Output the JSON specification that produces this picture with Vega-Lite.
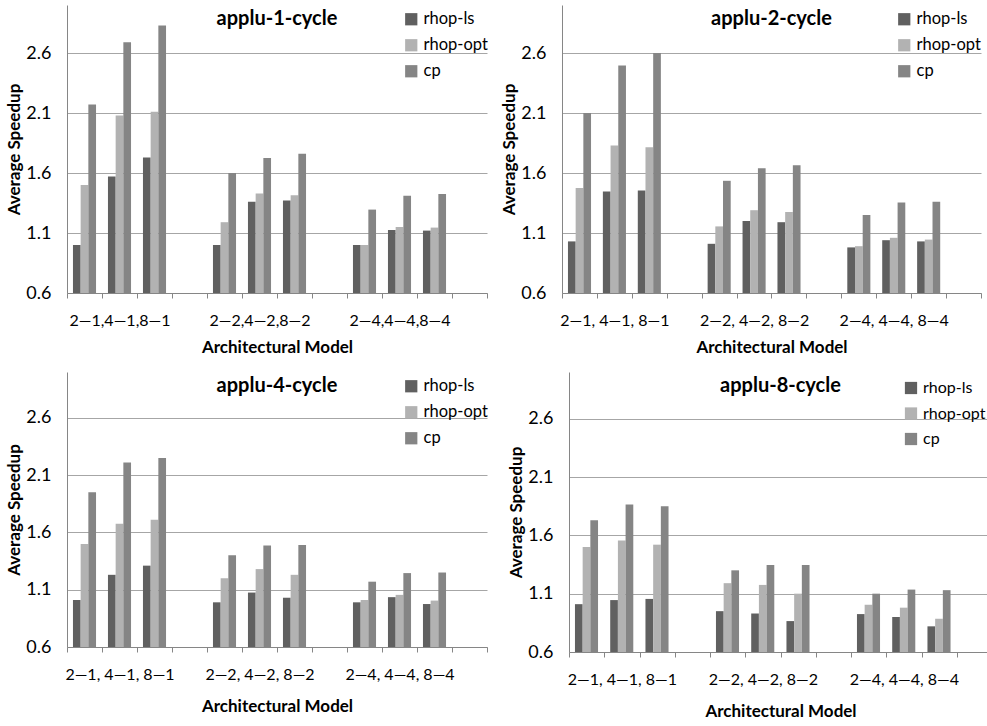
{
  "$schema": "https://vega.github.io/schema/vega-lite/v6.json",
  "background": "white",
  "padding": {"left": 5, "top": 5, "right": 5, "bottom": 5},
  "config": {
    "font": "Lato",
    "view": {"stroke": null},
    "axis": {"labelFont": "Lato", "titleFont": "Lato", "labelColor": "#000", "titleColor": "#000", "domainColor": "#868686", "tickColor": "#868686", "gridColor": "#a6a6a6"},
    "legend": {"labelFont": "Lato", "labelColor": "#000"},
    "title": {"font": "Lato", "color": "#000"}
  },
  "data": {"values": [
    {"panel": 1, "slot": "2—1", "series": "rhop-ls", "value": 1.00},
    {"panel": 1, "slot": "2—1", "series": "rhop-opt", "value": 1.50},
    {"panel": 1, "slot": "2—1", "series": "cp", "value": 2.17},
    {"panel": 1, "slot": "4—1", "series": "rhop-ls", "value": 1.57},
    {"panel": 1, "slot": "4—1", "series": "rhop-opt", "value": 2.08},
    {"panel": 1, "slot": "4—1", "series": "cp", "value": 2.69},
    {"panel": 1, "slot": "8—1", "series": "rhop-ls", "value": 1.73},
    {"panel": 1, "slot": "8—1", "series": "rhop-opt", "value": 2.11},
    {"panel": 1, "slot": "8—1", "series": "cp", "value": 2.83},
    {"panel": 1, "slot": "2—2", "series": "rhop-ls", "value": 1.00},
    {"panel": 1, "slot": "2—2", "series": "rhop-opt", "value": 1.19},
    {"panel": 1, "slot": "2—2", "series": "cp", "value": 1.60},
    {"panel": 1, "slot": "4—2", "series": "rhop-ls", "value": 1.36},
    {"panel": 1, "slot": "4—2", "series": "rhop-opt", "value": 1.43},
    {"panel": 1, "slot": "4—2", "series": "cp", "value": 1.725},
    {"panel": 1, "slot": "8—2", "series": "rhop-ls", "value": 1.37},
    {"panel": 1, "slot": "8—2", "series": "rhop-opt", "value": 1.415},
    {"panel": 1, "slot": "8—2", "series": "cp", "value": 1.76},
    {"panel": 1, "slot": "2—4", "series": "rhop-ls", "value": 1.00},
    {"panel": 1, "slot": "2—4", "series": "rhop-opt", "value": 1.00},
    {"panel": 1, "slot": "2—4", "series": "cp", "value": 1.295},
    {"panel": 1, "slot": "4—4", "series": "rhop-ls", "value": 1.125},
    {"panel": 1, "slot": "4—4", "series": "rhop-opt", "value": 1.15},
    {"panel": 1, "slot": "4—4", "series": "cp", "value": 1.41},
    {"panel": 1, "slot": "8—4", "series": "rhop-ls", "value": 1.12},
    {"panel": 1, "slot": "8—4", "series": "rhop-opt", "value": 1.145},
    {"panel": 1, "slot": "8—4", "series": "cp", "value": 1.425},

    {"panel": 2, "slot": "2—1", "series": "rhop-ls", "value": 1.03},
    {"panel": 2, "slot": "2—1", "series": "rhop-opt", "value": 1.475},
    {"panel": 2, "slot": "2—1", "series": "cp", "value": 2.10},
    {"panel": 2, "slot": "4—1", "series": "rhop-ls", "value": 1.445},
    {"panel": 2, "slot": "4—1", "series": "rhop-opt", "value": 1.83},
    {"panel": 2, "slot": "4—1", "series": "cp", "value": 2.495},
    {"panel": 2, "slot": "8—1", "series": "rhop-ls", "value": 1.455},
    {"panel": 2, "slot": "8—1", "series": "rhop-opt", "value": 1.815},
    {"panel": 2, "slot": "8—1", "series": "cp", "value": 2.60},
    {"panel": 2, "slot": "2—2", "series": "rhop-ls", "value": 1.01},
    {"panel": 2, "slot": "2—2", "series": "rhop-opt", "value": 1.155},
    {"panel": 2, "slot": "2—2", "series": "cp", "value": 1.535},
    {"panel": 2, "slot": "4—2", "series": "rhop-ls", "value": 1.20},
    {"panel": 2, "slot": "4—2", "series": "rhop-opt", "value": 1.29},
    {"panel": 2, "slot": "4—2", "series": "cp", "value": 1.64},
    {"panel": 2, "slot": "8—2", "series": "rhop-ls", "value": 1.19},
    {"panel": 2, "slot": "8—2", "series": "rhop-opt", "value": 1.275},
    {"panel": 2, "slot": "8—2", "series": "cp", "value": 1.665},
    {"panel": 2, "slot": "2—4", "series": "rhop-ls", "value": 0.98},
    {"panel": 2, "slot": "2—4", "series": "rhop-opt", "value": 0.99},
    {"panel": 2, "slot": "2—4", "series": "cp", "value": 1.25},
    {"panel": 2, "slot": "4—4", "series": "rhop-ls", "value": 1.04},
    {"panel": 2, "slot": "4—4", "series": "rhop-opt", "value": 1.06},
    {"panel": 2, "slot": "4—4", "series": "cp", "value": 1.355},
    {"panel": 2, "slot": "8—4", "series": "rhop-ls", "value": 1.03},
    {"panel": 2, "slot": "8—4", "series": "rhop-opt", "value": 1.045},
    {"panel": 2, "slot": "8—4", "series": "cp", "value": 1.36},

    {"panel": 3, "slot": "2—1", "series": "rhop-ls", "value": 1.01},
    {"panel": 3, "slot": "2—1", "series": "rhop-opt", "value": 1.50},
    {"panel": 3, "slot": "2—1", "series": "cp", "value": 1.95},
    {"panel": 3, "slot": "4—1", "series": "rhop-ls", "value": 1.23},
    {"panel": 3, "slot": "4—1", "series": "rhop-opt", "value": 1.675},
    {"panel": 3, "slot": "4—1", "series": "cp", "value": 2.21},
    {"panel": 3, "slot": "8—1", "series": "rhop-ls", "value": 1.31},
    {"panel": 3, "slot": "8—1", "series": "rhop-opt", "value": 1.71},
    {"panel": 3, "slot": "8—1", "series": "cp", "value": 2.25},
    {"panel": 3, "slot": "2—2", "series": "rhop-ls", "value": 0.99},
    {"panel": 3, "slot": "2—2", "series": "rhop-opt", "value": 1.20},
    {"panel": 3, "slot": "2—2", "series": "cp", "value": 1.40},
    {"panel": 3, "slot": "4—2", "series": "rhop-ls", "value": 1.075},
    {"panel": 3, "slot": "4—2", "series": "rhop-opt", "value": 1.28},
    {"panel": 3, "slot": "4—2", "series": "cp", "value": 1.485},
    {"panel": 3, "slot": "8—2", "series": "rhop-ls", "value": 1.03},
    {"panel": 3, "slot": "8—2", "series": "rhop-opt", "value": 1.23},
    {"panel": 3, "slot": "8—2", "series": "cp", "value": 1.49},
    {"panel": 3, "slot": "2—4", "series": "rhop-ls", "value": 0.99},
    {"panel": 3, "slot": "2—4", "series": "rhop-opt", "value": 1.01},
    {"panel": 3, "slot": "2—4", "series": "cp", "value": 1.17},
    {"panel": 3, "slot": "4—4", "series": "rhop-ls", "value": 1.035},
    {"panel": 3, "slot": "4—4", "series": "rhop-opt", "value": 1.055},
    {"panel": 3, "slot": "4—4", "series": "cp", "value": 1.245},
    {"panel": 3, "slot": "8—4", "series": "rhop-ls", "value": 0.975},
    {"panel": 3, "slot": "8—4", "series": "rhop-opt", "value": 1.005},
    {"panel": 3, "slot": "8—4", "series": "cp", "value": 1.25},

    {"panel": 4, "slot": "2—1", "series": "rhop-ls", "value": 1.01},
    {"panel": 4, "slot": "2—1", "series": "rhop-opt", "value": 1.50},
    {"panel": 4, "slot": "2—1", "series": "cp", "value": 1.73},
    {"panel": 4, "slot": "4—1", "series": "rhop-ls", "value": 1.045},
    {"panel": 4, "slot": "4—1", "series": "rhop-opt", "value": 1.555},
    {"panel": 4, "slot": "4—1", "series": "cp", "value": 1.865},
    {"panel": 4, "slot": "8—1", "series": "rhop-ls", "value": 1.055},
    {"panel": 4, "slot": "8—1", "series": "rhop-opt", "value": 1.52},
    {"panel": 4, "slot": "8—1", "series": "cp", "value": 1.85},
    {"panel": 4, "slot": "2—2", "series": "rhop-ls", "value": 0.95},
    {"panel": 4, "slot": "2—2", "series": "rhop-opt", "value": 1.19},
    {"panel": 4, "slot": "2—2", "series": "cp", "value": 1.30},
    {"panel": 4, "slot": "4—2", "series": "rhop-ls", "value": 0.93},
    {"panel": 4, "slot": "4—2", "series": "rhop-opt", "value": 1.175},
    {"panel": 4, "slot": "4—2", "series": "cp", "value": 1.345},
    {"panel": 4, "slot": "8—2", "series": "rhop-ls", "value": 0.865},
    {"panel": 4, "slot": "8—2", "series": "rhop-opt", "value": 1.10},
    {"panel": 4, "slot": "8—2", "series": "cp", "value": 1.345},
    {"panel": 4, "slot": "2—4", "series": "rhop-ls", "value": 0.925},
    {"panel": 4, "slot": "2—4", "series": "rhop-opt", "value": 1.005},
    {"panel": 4, "slot": "2—4", "series": "cp", "value": 1.10},
    {"panel": 4, "slot": "4—4", "series": "rhop-ls", "value": 0.90},
    {"panel": 4, "slot": "4—4", "series": "rhop-opt", "value": 0.98},
    {"panel": 4, "slot": "4—4", "series": "cp", "value": 1.135},
    {"panel": 4, "slot": "8—4", "series": "rhop-ls", "value": 0.82},
    {"panel": 4, "slot": "8—4", "series": "rhop-opt", "value": 0.885},
    {"panel": 4, "slot": "8—4", "series": "cp", "value": 1.13}
  ]},
  "vconcat": [
    {
      "hconcat": [
        {
          "width": 420, "height": 288,
          "title": {"text": "applu-1-cycle", "anchor": "middle", "offset": -24, "fontSize": 20, "fontWeight": "bold"},
          "transform": [{"filter": "datum.panel == 1"}],
          "mark": {"type": "bar"},
          "encoding": {
            "x": {"field": "slot", "type": "nominal", "sort": null,
              "scale": {"domain": ["2—1","4—1","8—1","s1","2—2","4—2","8—2","s2","2—4","4—4","8—4","s3"], "paddingInner": 0, "paddingOuter": 0},
              "axis": {"title": "Architectural Model", "titleFontSize": 17, "titleFontWeight": "bold", "titlePadding": 11, "labelAngle": 0, "labelFontSize": 16, "labelPadding": 14, "tickBand": "extent", "tickSize": 5, "labelExpr": "datum.value == '4—1' ? '2—1,4—1,8—1' : datum.value == '4—2' ? '2—2,4—2,8—2' : datum.value == '4—4' ? '2—4,4—4,8—4' : ''"}},
            "xOffset": {"field": "series", "type": "nominal", "sort": ["rhop-ls","rhop-opt","cp"], "scale": {"paddingInner": 0, "paddingOuter": 0.775}},
            "y": {"field": "value", "type": "quantitative",
              "scale": {"domain": [0.6, 3.0], "zero": false, "nice": false},
              "axis": {"title": "Average Speedup", "titleFontSize": 17, "titleFontWeight": "bold", "titlePadding": 2, "values": [0.6,1.1,1.6,2.1,2.6], "format": ".1f", "ticks": false, "labelFontSize": 18, "labelPadding": 16, "grid": true}},
            "y2": {"datum": 0.6},
            "color": {"field": "series", "type": "nominal",
              "scale": {"domain": ["rhop-ls","rhop-opt","cp"], "range": ["#606060","#b2b2b2","#858585"]},
              "legend": {"title": null, "orient": "none", "legendX": 336, "legendY": 6, "symbolType": "square", "symbolSize": 150, "symbolStrokeWidth": 0, "labelFontSize": 16.5, "labelOffset": 4, "rowPadding": 9}}
          }
        },
        {
          "width": 419, "height": 288,
          "title": {"text": "applu-2-cycle", "anchor": "middle", "offset": -24, "fontSize": 20, "fontWeight": "bold"},
          "transform": [{"filter": "datum.panel == 2"}],
          "mark": {"type": "bar"},
          "encoding": {
            "x": {"field": "slot", "type": "nominal", "sort": null,
              "scale": {"domain": ["2—1","4—1","8—1","s1","2—2","4—2","8—2","s2","2—4","4—4","8—4","s3"], "paddingInner": 0, "paddingOuter": 0},
              "axis": {"title": "Architectural Model", "titleFontSize": 17, "titleFontWeight": "bold", "titlePadding": 11, "labelAngle": 0, "labelFontSize": 16, "labelPadding": 14, "tickBand": "extent", "tickSize": 5, "labelExpr": "datum.value == '4—1' ? '2—1, 4—1, 8—1' : datum.value == '4—2' ? '2—2, 4—2, 8—2' : datum.value == '4—4' ? '2—4, 4—4, 8—4' : ''"}},
            "xOffset": {"field": "series", "type": "nominal", "sort": ["rhop-ls","rhop-opt","cp"], "scale": {"paddingInner": 0, "paddingOuter": 0.775}},
            "y": {"field": "value", "type": "quantitative",
              "scale": {"domain": [0.6, 3.0], "zero": false, "nice": false},
              "axis": {"title": "Average Speedup", "titleFontSize": 17, "titleFontWeight": "bold", "titlePadding": 2, "values": [0.6,1.1,1.6,2.1,2.6], "format": ".1f", "ticks": false, "labelFontSize": 18, "labelPadding": 16, "grid": true}},
            "y2": {"datum": 0.6},
            "color": {"field": "series", "type": "nominal",
              "scale": {"domain": ["rhop-ls","rhop-opt","cp"], "range": ["#606060","#b2b2b2","#858585"]},
              "legend": {"title": null, "orient": "none", "legendX": 334, "legendY": 6, "symbolType": "square", "symbolSize": 150, "symbolStrokeWidth": 0, "labelFontSize": 16.5, "labelOffset": 4, "rowPadding": 9}}
          }
        }
      ],
      "spacing": 12,
      "resolve": {"scale": {"color": "independent", "x": "independent", "y": "independent"}, "legend": {"color": "independent"}, "axis": {"x": "independent", "y": "independent"}}
    },
    {
      "hconcat": [
        {
          "width": 420, "height": 275,
          "title": {"text": "applu-4-cycle", "anchor": "middle", "offset": -24, "fontSize": 20, "fontWeight": "bold"},
          "transform": [{"filter": "datum.panel == 3"}],
          "mark": {"type": "bar"},
          "encoding": {
            "x": {"field": "slot", "type": "nominal", "sort": null,
              "scale": {"domain": ["2—1","4—1","8—1","s1","2—2","4—2","8—2","s2","2—4","4—4","8—4","s3"], "paddingInner": 0, "paddingOuter": 0},
              "axis": {"title": "Architectural Model", "titleFontSize": 17, "titleFontWeight": "bold", "titlePadding": 16, "labelAngle": 0, "labelFontSize": 16, "labelPadding": 14, "tickBand": "extent", "tickSize": 5, "labelExpr": "datum.value == '4—1' ? '2—1, 4—1, 8—1' : datum.value == '4—2' ? '2—2, 4—2, 8—2' : datum.value == '4—4' ? '2—4, 4—4, 8—4' : ''"}},
            "xOffset": {"field": "series", "type": "nominal", "sort": ["rhop-ls","rhop-opt","cp"], "scale": {"paddingInner": 0, "paddingOuter": 0.775}},
            "y": {"field": "value", "type": "quantitative",
              "scale": {"domain": [0.6, 3.0], "zero": false, "nice": false},
              "axis": {"title": "Average Speedup", "titleFontSize": 17, "titleFontWeight": "bold", "titlePadding": 2, "values": [0.6,1.1,1.6,2.1,2.6], "format": ".1f", "ticks": false, "labelFontSize": 18, "labelPadding": 16, "grid": true}},
            "y2": {"datum": 0.6},
            "color": {"field": "series", "type": "nominal",
              "scale": {"domain": ["rhop-ls","rhop-opt","cp"], "range": ["#606060","#b2b2b2","#858585"]},
              "legend": {"title": null, "orient": "none", "legendX": 336, "legendY": 6, "symbolType": "square", "symbolSize": 150, "symbolStrokeWidth": 0, "labelFontSize": 16.5, "labelOffset": 4, "rowPadding": 9}}
          }
        },
        {
          "width": 423, "height": 280,
          "title": {"text": "applu-8-cycle", "anchor": "middle", "offset": -24, "fontSize": 20, "fontWeight": "bold"},
          "transform": [{"filter": "datum.panel == 4"}],
          "mark": {"type": "bar"},
          "encoding": {
            "x": {"field": "slot", "type": "nominal", "sort": null,
              "scale": {"domain": ["2—1","4—1","8—1","s1","2—2","4—2","8—2","s2","2—4","4—4","8—4","s3"], "paddingInner": 0, "paddingOuter": 0},
              "axis": {"title": "Architectural Model", "titleFontSize": 17, "titleFontWeight": "bold", "titlePadding": 16, "labelAngle": 0, "labelFontSize": 16, "labelPadding": 14, "tickBand": "extent", "tickSize": 5, "labelExpr": "datum.value == '4—1' ? '2—1, 4—1, 8—1' : datum.value == '4—2' ? '2—2, 4—2, 8—2' : datum.value == '4—4' ? '2—4, 4—4, 8—4' : ''"}},
            "xOffset": {"field": "series", "type": "nominal", "sort": ["rhop-ls","rhop-opt","cp"], "scale": {"paddingInner": 0, "paddingOuter": 0.775}},
            "y": {"field": "value", "type": "quantitative",
              "scale": {"domain": [0.6, 3.0], "zero": false, "nice": false},
              "axis": {"title": "Average Speedup", "titleFontSize": 17, "titleFontWeight": "bold", "titlePadding": 2, "values": [0.6,1.1,1.6,2.1,2.6], "format": ".1f", "ticks": false, "labelFontSize": 18, "labelPadding": 16, "grid": true}},
            "y2": {"datum": 0.6},
            "color": {"field": "series", "type": "nominal",
              "scale": {"domain": ["rhop-ls","rhop-opt","cp"], "range": ["#606060","#b2b2b2","#858585"]},
              "legend": {"title": null, "orient": "none", "legendX": 334, "legendY": 8, "symbolType": "square", "symbolSize": 150, "symbolStrokeWidth": 0, "labelFontSize": 16, "labelOffset": 4, "rowPadding": 9.5}}
          }
        }
      ],
      "spacing": 19,
      "resolve": {"scale": {"color": "independent", "x": "independent", "y": "independent"}, "legend": {"color": "independent"}, "axis": {"x": "independent", "y": "independent"}}
    }
  ],
  "spacing": 17,
  "resolve": {"scale": {"color": "independent", "x": "independent", "y": "independent"}, "legend": {"color": "independent"}, "axis": {"x": "independent", "y": "independent"}}
}
